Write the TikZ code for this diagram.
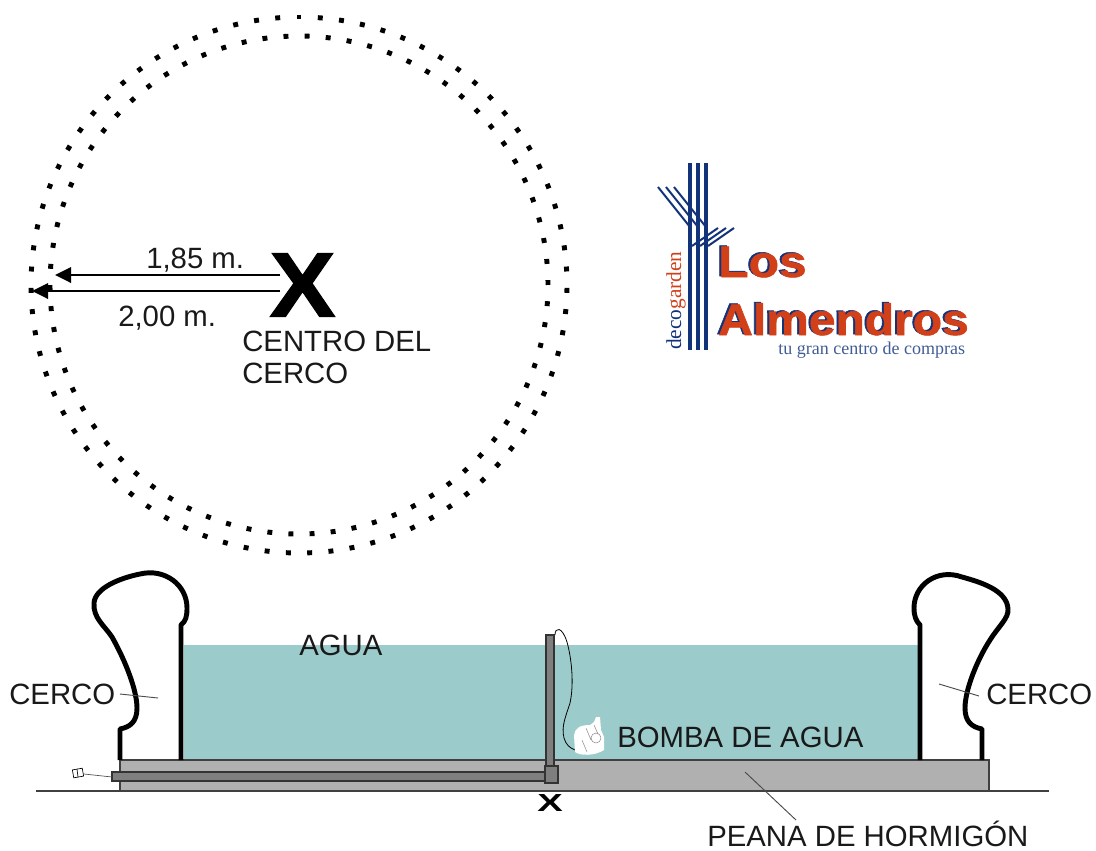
\documentclass[tikz,border=0pt]{standalone}
\usepackage{fontspec}
\setmainfont{Liberation Sans}
\newfontfamily\logoserif{Liberation Serif}
\newfontfamily\heavy[UprightFont={* Bold},FakeBold=1.2]{Liberation Sans}
\usetikzlibrary{arrows.meta}
\definecolor{agua}{HTML}{9CCBCB}
\definecolor{peana}{HTML}{B0B0B0}
\definecolor{tubo}{HTML}{7F7F7F}
\definecolor{navy}{HTML}{12337A}
\definecolor{rojo}{HTML}{D2401A}
\tikzset{
 x=0.75pt,y=-0.75pt,
 label/.style={font=\fontsize{22}{24}\selectfont,text=black!90,inner sep=0pt},
 dotmark/.style={fill=black,minimum size=3.7pt,inner sep=0pt,draw=none},
 wall/.style={line width=3.7pt,black,line join=round},
 leader/.style={line width=0.7pt,black!70},
 dimline/.style={line width=1.8pt,black,-{Triangle[length=12pt,width=11.5pt]}},
 logoline/.style={navy,line width=2.8pt},
 logothin/.style={navy,line width=1.5pt},
 logotext/.style={font=\heavy\fontsize{33}{33}\selectfont,inner sep=0pt,anchor=base west},
}
\begin{document}
\begin{tikzpicture}
\useasboundingbox (0,0) rectangle (1096,850);
% dotted rings
\foreach \i in {0,...,78}{\pgfmathsetmacro{\ang}{90-\i/79*360}\node[dotmark,rotate=\ang] at ({299+268*cos(\ang)},{285-268*sin(\ang)}) {};}
\foreach \i in {0,...,73}{\pgfmathsetmacro{\ang}{93-\i/74*360}\node[dotmark,rotate=\ang] at ({299+249*cos(\ang)},{285-249*sin(\ang)}) {};}
% centre mark
\node[font=\heavy\fontsize{69}{69}\selectfont,inner sep=0pt,xscale=1.08] (cross) at (302.5,285) {X};
\coordinate (s1) at (280,275); \coordinate (e1) at (55,275);
\coordinate (s2) at (280,291); \coordinate (e2) at (32,291);
\draw[dimline] (s1) -- (e1);
\draw[dimline] (s2) -- (e2);
\node[label,anchor=base west] (t185) at (146,268) {1,85 m.};
\node[label,anchor=base west] (t200) at (118,326) {2,00 m.};
\node[label,anchor=base west] (tc1) at (242,351) {CENTRO DEL};
\node[label,anchor=base west] (tc2) at (242,383) {CERCO};
% logo
\foreach \xx in {690,698,706}{\draw[logoline] (\xx,163) -- (\xx,350);}
\draw[logothin] (658,187) -- (690,227);
\draw[logothin] (666,187) -- (698,227);
\draw[logothin] (674,187) -- (706,227);
\draw[logothin] (692,246) -- (718,228);
\draw[logothin] (700,246) -- (726,228);
\draw[logothin] (708,246) -- (734,228);
\node[rotate=90,anchor=base west,inner sep=0pt,font=\logoserif\fontsize{16}{16}\selectfont] (deco) at (681,350) {\textcolor{navy}{deco}\textcolor{rojo}{garden}};
\node[logotext,text=navy,xscale=1.13] (los0) at (716,276) {Los};
\node[logotext,text=rojo,xscale=1.13] (los1) at (718,277) {Los};
\node[logotext,text=navy,xscale=1.09] (alm0) at (716,334) {Almendros};
\node[logotext,text=rojo,xscale=1.09] (alm1) at (718,335) {Almendros};
\node[inner sep=0pt,anchor=base west,text=navy!80,font=\logoserif\fontsize{13.5}{14}\selectfont] (lema) at (778,354) {tu gran centro de compras};
% water, base
\fill[agua] (184,645) rectangle (918,760);
\draw[line width=0.8pt,black!75,fill=peana] (120,760) rectangle (989,791);
\coordinate (g1) at (36,791); \coordinate (g2) at (1049,791);
\draw[line width=0.8pt,black!75] (g1) -- (g2);
% pipes
\draw[line width=0.8pt,black!80,fill=tubo] (112,772) rectangle (546,781);
\draw[line width=0.8pt,black!80,fill=tubo] (546,635) rectangle (554,766);
\draw[line width=0.8pt,black!80,fill=tubo] (545,766) rectangle (558,783);
% cable
\coordinate (cb) at (555,635);
\draw[line width=0.6pt,black] (cb) .. controls (555,627) and (562,626) .. (567,642) .. controls (572,660) and (574,685) .. (570,703) .. controls (566,716) and (561,726) .. (564,738) .. controls (566,745) and (570,748) .. (575,750);
% pump
\fill[white] (574,735) .. controls (575,728) and (580,725) .. (590,725) -- (594,722) -- (596,717) -- (600,717) -- (601,730) -- (604,737) -- (604,750) .. controls (595,756) and (580,756) .. (575,752) -- cycle;
\draw[line width=0.4pt,black!45] (586,728) -- (591,740) (596,738) circle[radius=5];
\draw[line width=0.4pt,black!45] (582,740) -- (587,752) (594,725) -- (598,734);
% wall profiles
\draw[wall] (120,760) -- (120,729) .. controls (130,727) and (137,722) .. (137,708)
 .. controls (137,690) and (125,660) .. (112,637)
 .. controls (104,625) and (93,618) .. (94,603)
 .. controls (95,588) and (120,578) .. (140,574)
 .. controls (165,568) and (187,585) .. (187,608)
 .. controls (187,616) and (186,621) .. (181,625) -- (181,760);
\draw[wall] (982,760) -- (982,729) .. controls (972,727) and (965,722) .. (965,708)
 .. controls (965,690) and (977,660) .. (990,640)
 .. controls (998,627) and (1009,618) .. (1008,609)
 .. controls (1007,590) and (980,582) .. (962,577)
 .. controls (937,568) and (914,585) .. (914,608)
 .. controls (914,616) and (916,621) .. (920,625) -- (920,760);
% plug
\coordinate (pl) at (84,774); \coordinate (pr) at (112,777);
\draw[line width=0.5pt,black!70] (pl) -- (pr);
\draw[line width=0.5pt,black,fill=white,rotate around={10:(78,773)}] (73,769) rectangle (83,777);
\draw[line width=0.5pt,black] (77,769) -- (78,777);
% small x
\node[font=\bfseries\fontsize{18.5}{19}\selectfont,inner sep=0pt,xscale=1.55] (xs) at (550,803) {X};
% labels and leaders
\node[label,anchor=base west] (cl) at (9,704) {CERCO};
\node[label,anchor=base west] (cr) at (986,704) {CERCO};
\node[label,anchor=base west] (agu) at (299,655) {AGUA};
\node[label,anchor=base west] (bom) at (617,747) {BOMBA DE AGUA};
\node[label,anchor=base west] (pea) at (707,846) {PEANA DE HORMIGÓN};
\coordinate (l1a) at (120,694); \coordinate (l1b) at (158,698);
\coordinate (l2a) at (939,684); \coordinate (l2b) at (979,696);
\coordinate (l3a) at (745,772); \coordinate (l3b) at (796,820);
\draw[leader] (l1a) -- (l1b);
\draw[leader] (l2a) -- (l2b);
\draw[leader] (l3a) -- (l3b);
\end{tikzpicture}
\end{document}
